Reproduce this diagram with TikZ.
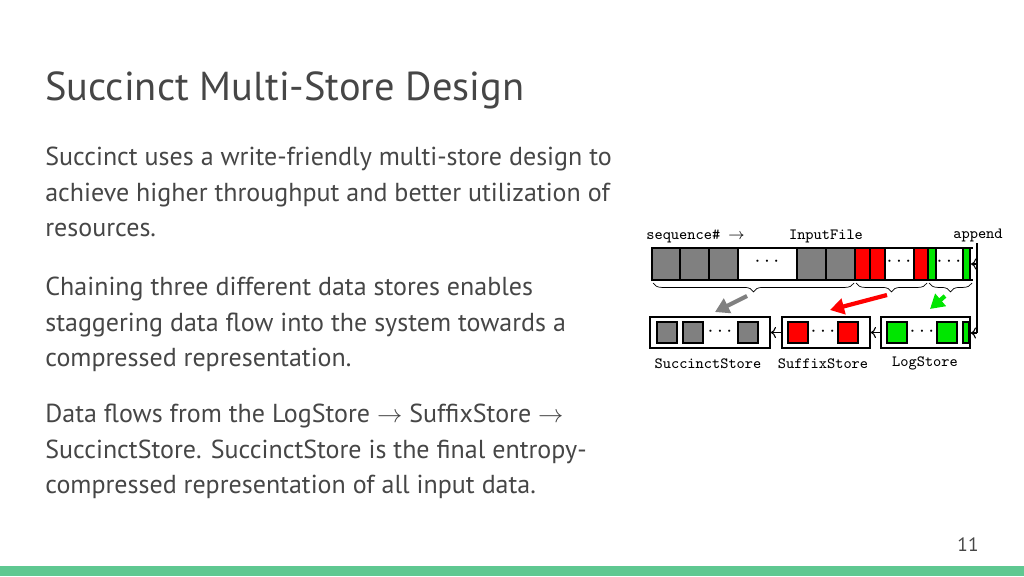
\documentclass[tikz,border=0pt]{standalone}
\usepackage{fontspec}
\setmainfont{PT Sans}
\usetikzlibrary{positioning, decorations.pathreplacing, arrows.meta}
\definecolor{slidegreen}{RGB}{95,200,145}
\definecolor{celgray}{RGB}{128,128,128}
\definecolor{celred}{RGB}{255,0,0}
\definecolor{celgreen}{RGB}{0,230,0}
\definecolor{txtgray}{RGB}{70,70,70}
\tikzstyle{cell} = [draw=black, thick]
\tikzstyle{store} = [draw=black, thick, fill=white]
\tikzstyle{body} = [anchor=north west, align=left, text=txtgray, font=\fontsize{14.8}{20.1}\selectfont, inner sep=0pt]
\tikzstyle{mono} = [font=\ttfamily\fontsize{8.9}{10}\selectfont, inner sep=0pt]
\tikzstyle{flow} = [-{Triangle[length=8pt, width=9pt]}, line width=2.4pt]
\tikzstyle{link} = [-{To[length=3pt]}, semithick]
\tikzstyle{dots} = [font=\large]
\begin{document}
\begin{tikzpicture}[x=0.02cm, y=-0.02cm]
  \useasboundingbox (0,0) rectangle (1024,576);
  \fill[slidegreen] (0,566) rectangle (1024,576);

  % title and text
  \node (title) [anchor=base west, inner sep=0pt, text=txtgray, font=\fontsize{23}{26}\selectfont] at (45,100) {Succinct Multi-Store Design};
  \node (p1) [body] at (45,147) {Succinct uses a write-friendly multi-store design to\\achieve higher throughput and better utilization of\\resources.};
  \node (p2) [body] at (45,277) {Chaining three different data stores enables\\staggering data flow into the system towards a\\compressed representation.};
  \node (p3) [body] at (45,404) {Data flows from the LogStore $\rightarrow$ SuffixStore $\rightarrow$\\SuccinctStore. SuccinctStore is the final entropy-\\compressed representation of all input data.};
  \node (pg) [text=txtgray, font=\fontsize{11}{13}\selectfont] at (968,545) {11};

  % input file
  \foreach \a/\b in {652/680, 680/709, 709/738, 797/826, 826/855}
    \draw[cell, fill=celgray] (\a,248) rectangle (\b,280);
  \foreach \a/\b in {855/870, 870/885, 914/928}
    \draw[cell, fill=celred] (\a,248) rectangle (\b,280);
  \foreach \a/\b in {928/936, 963/970}
    \draw[cell, fill=celgreen] (\a,248) rectangle (\b,280);
  \draw[cell] (738,248) rectangle (797,280);
  \draw[cell] (885,248) rectangle (914,280);
  \draw[cell] (936,248) rectangle (963,280);
  \draw[thick] (652,248) -- (973,248) (652,280) -- (973,280);
  \node (d1) [dots] at (767,262) {$\cdots$};
  \node (d2) [dots] at (899,262) {$\cdots$};
  \node (d3) [dots] at (949,262) {$\cdots$};

  % braces
  \draw[decorate, decoration={brace, mirror, amplitude=5pt}] (653,283) -- (854,283);
  \draw[decorate, decoration={brace, mirror, amplitude=5pt}] (856,283) -- (927,283);
  \draw[decorate, decoration={brace, mirror, amplitude=5pt}] (929,283) -- (972,283);

  % stores
  \node (succ) [store, minimum width=120*0.02cm, minimum height=31*0.02cm] at (710,332.5) {};
  \node (suff) [store, minimum width=88*0.02cm, minimum height=31*0.02cm] at (826,332.5) {};
  \node (log) [store, minimum width=89*0.02cm, minimum height=31*0.02cm] at (925.5,332.5) {};
  \foreach \a in {657, 683, 738}
    \draw[cell, fill=celgray] (\a,322) rectangle +(20,21);
  \foreach \a in {788, 838}
    \draw[cell, fill=celred] (\a,322) rectangle +(20,21);
  \foreach \a in {887, 937}
    \draw[cell, fill=celgreen] (\a,322) rectangle +(20,21);
  \draw[cell, fill=celgreen] (963,322) rectangle (969,343);
  \node (d4) [dots] at (720,332) {$\cdots$};
  \node (d5) [dots] at (823,332) {$\cdots$};
  \node (d6) [dots] at (922,332) {$\cdots$};
  \draw[link] (suff.west) -- (succ.east);
  \draw[link] (log.west) -- (suff.east);

  % flow arrows
  \coordinate (g1) at (747,296); \coordinate (g2) at (715,312);
  \coordinate (r1) at (887,295); \coordinate (r2) at (830,310);
  \coordinate (n1) at (945,296); \coordinate (n2) at (930,309);
  \draw[flow, celgray] (g1) -- (g2);
  \draw[flow, celred] (r1) -- (r2);
  \draw[flow, celgreen] (n1) -- (n2);

  % append
  \node (app) [mono, anchor=base] at (978,238) {append};
  \coordinate (a1) at (977,243);
  \coordinate (a2) at (977,333);
  \draw[link] (977,264) -- (971,264);
  \draw[semithick] (a1) -- (a2);
  \draw[link] (a2) -- (log.east |- a2);

  % labels
  \node (seq) [mono, anchor=base west] at (646,239) {sequence\# $\rightarrow$};
  \node (inp) [mono, anchor=base] at (826,239) {InputFile};
  \node (lsucc) [mono, anchor=base] at (708,368) {SuccinctStore};
  \node (lsuff) [mono, anchor=base] at (823,368) {SuffixStore};
  \node (llog) [mono, anchor=base] at (925,366) {LogStore};
\end{tikzpicture}
\end{document}
